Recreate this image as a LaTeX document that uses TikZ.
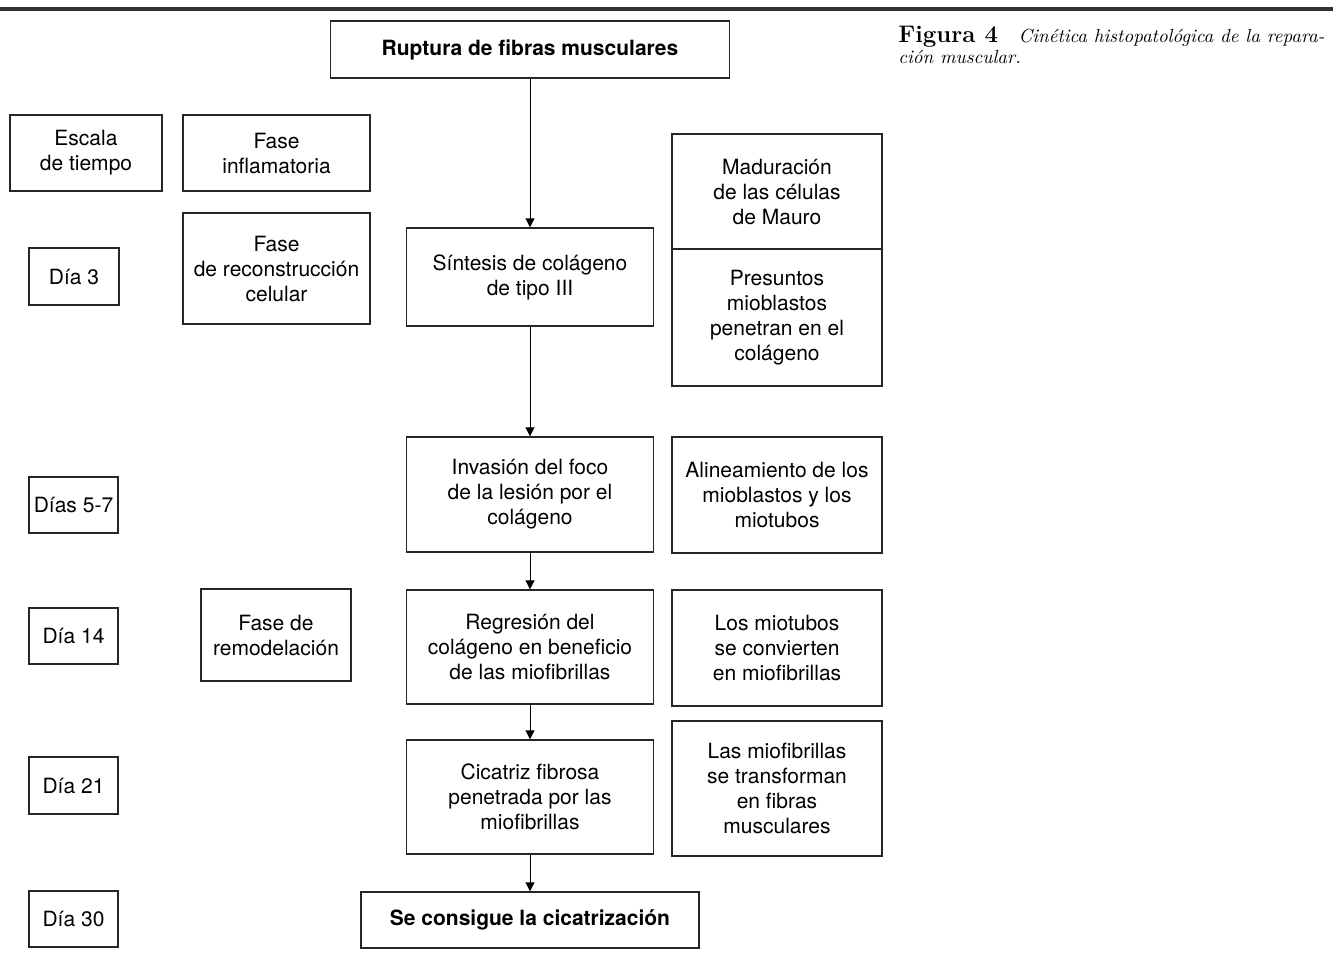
\documentclass[tikz,border=0pt]{standalone}
\usepackage{fontspec}
\setsansfont{TeX Gyre Heros}
\usetikzlibrary{arrows.meta}

\begin{document}
\begin{tikzpicture}[x=0.5pt,y=-0.5pt,
    caja/.style={draw=black!85,line width=0.7pt,inner sep=2pt,align=center,
      font=\sffamily\fontsize{10.5}{12.5}\selectfont},
    negrita/.style={font=\sffamily\bfseries\fontsize{10.5}{12.5}\selectfont},
    flecha/.style={-{Triangle[length=4.5pt,width=4.5pt]},line width=0.5pt}]
    \useasboundingbox (0,0) rectangle (1333,954);
    \draw[black!80,line width=1.6pt] (0,9) -- (1333,9);
    % leyenda
    \node[anchor=base west,inner sep=0,font=\bfseries\fontsize{12}{14}\selectfont] (figura) at (898,42) {Figura 4};
    \node[anchor=base east,inner sep=0,font=\itshape\fontsize{9.5}{11}\selectfont] (leyenda1) at (1325,42) {Cinética histopatológica de la repara-};
    \node[anchor=base west,inner sep=0,font=\itshape\fontsize{9.5}{11}\selectfont] (leyenda2) at (898,63) {ción muscular.};

    % escala de tiempo
    \node[caja,minimum width=76pt,minimum height=38pt] (escala) at (86,153) {Escala\\de tiempo};
    \node[caja,minimum width=45pt,minimum height=28.5pt] (dia3) at (74,276.5) {Día 3};
    \node[caja,minimum width=44.5pt,minimum height=28pt] (dias57) at (73.5,505) {Días 5-7};
    \node[caja,minimum width=44.5pt,minimum height=28pt] (dia14) at (73.5,636) {Día 14};
    \node[caja,minimum width=44.5pt,minimum height=28.5pt] (dia21) at (73.5,785.5) {Día 21};
    \node[caja,minimum width=44.5pt,minimum height=28pt] (dia30) at (73.5,919) {Día 30};

    % fases
    \node[caja,minimum width=93.5pt,minimum height=38pt] (inflamatoria) at (276.5,153) {Fase\\inflamatoria};
    \node[caja,minimum width=93.5pt,minimum height=55.5pt] (reconstruccion) at (276.5,268.5) {Fase\\de reconstrucción\\celular};
    \node[caja,minimum width=75pt,minimum height=46pt] (remodelacion) at (276,635) {Fase de\\remodelación};

    % columna central
    \node[caja,negrita,minimum width=199.5pt,minimum height=28.5pt] (ruptura) at (530,49.5) {Ruptura de fibras musculares};
    \node[caja,minimum width=123.5pt,minimum height=49pt] (sintesis) at (530,277) {Síntesis de colágeno\\de tipo III};
    \node[caja,minimum width=123.5pt,minimum height=57.5pt] (invasion) at (530,494.5) {Invasión del foco\\de la lesión por el\\colágeno};
    \node[caja,minimum width=123.5pt,minimum height=57pt] (regresion) at (530,647) {Regresión del\\colágeno en beneficio\\de las miofibrillas};
    \node[caja,minimum width=123.5pt,minimum height=57pt] (cicatriz) at (530,797) {Cicatriz fibrosa\\penetrada por las\\miofibrillas};
    \node[caja,negrita,minimum width=169pt,minimum height=28pt] (cicatrizacion) at (530,920) {Se consigue la cicatrización};

    % columna derecha
    \node[caja,minimum width=105pt,minimum height=57.5pt] (maduracion) at (777,191.5) {Maduración\\de las células\\de Mauro};
    \node[caja,minimum width=105pt,minimum height=68.5pt] (presuntos) at (777,317.5) {Presuntos\\mioblastos\\penetran en el\\colágeno};
    \node[caja,minimum width=105pt,minimum height=58pt] (alineamiento) at (777,495) {Alineamiento de los\\mioblastos y los\\miotubos};
    \node[caja,minimum width=105pt,minimum height=58pt] (miotubos) at (777,648) {Los miotubos\\se convierten\\en miofibrillas};
    \node[caja,minimum width=105pt,minimum height=67.5pt] (miofibrillas) at (777,788.5) {Las miofibrillas\\se transforman\\en fibras\\musculares};

    \draw[flecha] (ruptura) -- (sintesis);
    \draw[flecha] (sintesis) -- (invasion);
    \draw[flecha] (invasion) -- (regresion);
    \draw[flecha] (regresion) -- (cicatriz);
    \draw[flecha] (cicatriz) -- (cicatrizacion);
\end{tikzpicture}
\end{document}
